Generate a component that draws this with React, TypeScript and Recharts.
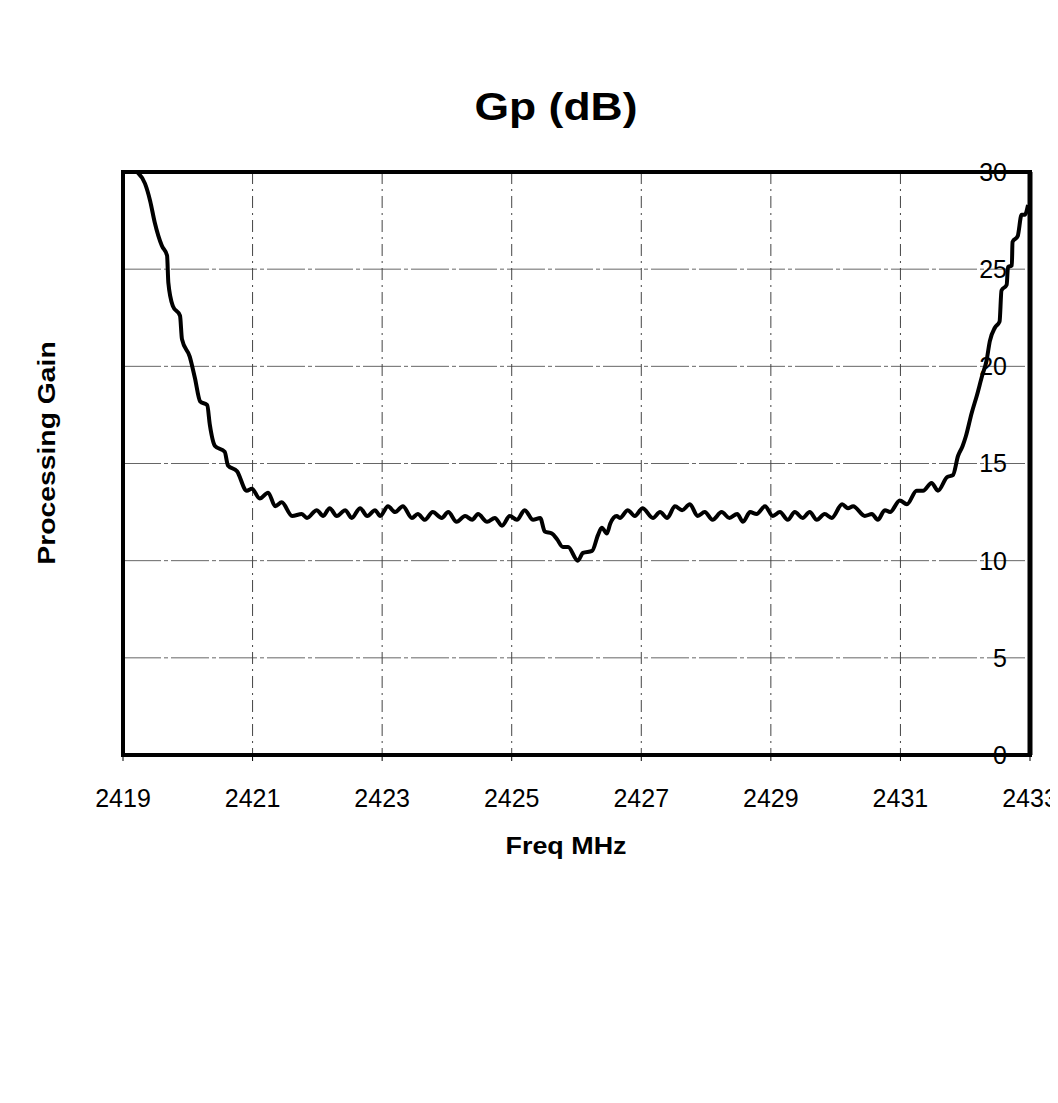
import { LineChart, Line, XAxis, YAxis, CartesianGrid, ReferenceArea, ReferenceLine } from "recharts";

// Frequency (MHz) and processing gain (dB)
const freqMHz = [
  2419.22, 2419.34, 2419.42, 2419.49, 2419.6, 2419.68, 2419.7, 2419.77, 2419.88, 2419.91,
  2420.03, 2420.11, 2420.19, 2420.3, 2420.34, 2420.42, 2420.57, 2420.62, 2420.76, 2420.91,
  2420.99, 2421.11, 2421.24, 2421.35, 2421.45, 2421.61, 2421.76, 2421.84, 2421.99, 2422.09,
  2422.19, 2422.3, 2422.43, 2422.53, 2422.66, 2422.77, 2422.89, 2422.97, 2423.09, 2423.2,
  2423.32, 2423.46, 2423.55, 2423.66, 2423.78, 2423.92, 2424.02, 2424.15, 2424.28, 2424.39,
  2424.48, 2424.62, 2424.74, 2424.85, 2424.97, 2425.08, 2425.2, 2425.33, 2425.44, 2425.51,
  2425.62, 2425.7, 2425.79, 2425.87, 2426.02, 2426.1, 2426.24, 2426.33, 2426.39, 2426.47,
  2426.52, 2426.62, 2426.67, 2426.79, 2426.9, 2427.02, 2427.18, 2427.29, 2427.4, 2427.52,
  2427.63, 2427.75, 2427.87, 2427.98, 2428.1, 2428.24, 2428.36, 2428.48, 2428.57, 2428.68,
  2428.78, 2428.91, 2429.03, 2429.14, 2429.26, 2429.37, 2429.49, 2429.6, 2429.71, 2429.83,
  2429.94, 2430.1, 2430.19, 2430.27, 2430.45, 2430.56, 2430.65, 2430.76, 2430.84, 2430.99,
  2431.1, 2431.25, 2431.35, 2431.48, 2431.58, 2431.72, 2431.81, 2431.89, 2431.96, 2432.01,
  2432.1, 2432.18, 2432.26, 2432.33, 2432.38, 2432.46, 2432.53, 2432.56, 2432.64, 2432.66,
  2432.72, 2432.73, 2432.81, 2432.87, 2432.92, 2432.97,
];

const gainDb = [
  30.0, 29.4, 28.5, 27.4, 26.2, 25.7, 24.3, 23.1, 22.6, 21.4,
  20.5, 19.4, 18.2, 18.0, 17.0, 15.9, 15.6, 14.9, 14.6, 13.6,
  13.7, 13.2, 13.5, 12.8, 13.0, 12.3, 12.4, 12.2, 12.6, 12.3,
  12.7, 12.3, 12.6, 12.2, 12.7, 12.3, 12.6, 12.3, 12.8, 12.5,
  12.8, 12.2, 12.4, 12.1, 12.5, 12.2, 12.5, 12.0, 12.3, 12.1,
  12.4, 12.0, 12.2, 11.8, 12.3, 12.1, 12.6, 12.1, 12.2, 11.5,
  11.4, 11.1, 10.7, 10.7, 10.0, 10.4, 10.5, 11.3, 11.7, 11.4,
  11.9, 12.3, 12.2, 12.6, 12.3, 12.7, 12.2, 12.5, 12.2, 12.8,
  12.6, 12.9, 12.3, 12.5, 12.1, 12.5, 12.2, 12.4, 12.0, 12.5,
  12.4, 12.8, 12.3, 12.5, 12.1, 12.5, 12.2, 12.5, 12.1, 12.4,
  12.2, 12.9, 12.7, 12.8, 12.3, 12.4, 12.1, 12.6, 12.5, 13.1,
  12.9, 13.6, 13.6, 14.0, 13.6, 14.3, 14.4, 15.4, 15.9, 16.4,
  17.6, 18.5, 19.5, 20.3, 21.3, 22.0, 22.3, 23.9, 24.2, 25.1,
  25.2, 26.4, 26.7, 27.8, 27.8, 28.3,
];

const xTicks = [2419, 2421, 2423, 2425, 2427, 2429, 2431, 2433];
const yTicks = [0, 5, 10, 15, 20, 25, 30];

const data = freqMHz.map((f, i) => ({ freq: f, gain: gainDb[i] }));

const font = "'Liberation Sans', Arial, sans-serif";

export default function App() {
  return (
    <div style={{ position: "relative", width: 1058, height: 1103, margin: -8, background: "#fff", fontFamily: font }}>
      {/* scan edge */}
      <div style={{ position: "absolute", left: 7, top: 5, width: 1045, height: 1094, borderTop: "1px dashed #999", borderLeft: "1px dashed #999" }} />
      <div
        style={{
          position: "absolute",
          left: 556,
          top: 87,
          transform: "translateX(-50%) scaleX(1.14)",
          fontSize: 39,
          fontWeight: "bold",
          whiteSpace: "nowrap",
          lineHeight: 1,
        }}
      >
        Gp (dB)
      </div>
      <div
        style={{
          position: "absolute",
          left: 47,
          top: 453,
          transform: "translate(-50%, -50%) rotate(-90deg) scaleX(1.18)",
          fontSize: 24,
          fontWeight: "bold",
          whiteSpace: "nowrap",
          lineHeight: 1,
        }}
      >
        Processing Gain
      </div>
      <div
        style={{
          position: "absolute",
          left: 566,
          top: 834,
          transform: "translateX(-50%) scaleX(1.12)",
          fontSize: 24,
          fontWeight: "bold",
          whiteSpace: "nowrap",
          lineHeight: 1,
        }}
      >
        Freq MHz
      </div>
      <div style={{ position: "absolute", left: 0, top: 0 }}>
        <LineChart width={1058} height={1103} data={data} margin={{ top: 172, right: 28, bottom: 318, left: 123 }}>
          <CartesianGrid vertical={false} stroke='#666' strokeDasharray='38 3 4 3' />
          <CartesianGrid horizontal={false} stroke='#444' strokeDasharray='12 5 2 5' />
          <XAxis
            dataKey='freq'
            type='number'
            domain={[2419, 2433]}
            ticks={xTicks}
            height={30}
            axisLine={false}
            tickSize={6}
            tickMargin={28}
            tickLine={{ stroke: "#000" }}
            tick={{ fill: "#000", fontSize: 25, fontFamily: font }}
            allowDataOverflow
          />
          <YAxis
            orientation='right'
            mirror
            domain={[0, 30]}
            ticks={yTicks}
            axisLine={false}
            tickLine={false}
            tickSize={0}
            tickMargin={23}
            tick={{ fill: "#000", fontSize: 25, fontFamily: font }}
            allowDataOverflow
          />
          <ReferenceArea x1={2419} x2={2433} y1={0} y2={30} fill='none' stroke='#000' strokeWidth={4} ifOverflow='visible' />
          <ReferenceLine x={2433} stroke='#000' strokeWidth={5} />
          <Line type='monotoneX' dataKey='gain' stroke='#000' strokeWidth={4} dot={false} isAnimationActive={false} />
        </LineChart>
      </div>
    </div>
  );
}
